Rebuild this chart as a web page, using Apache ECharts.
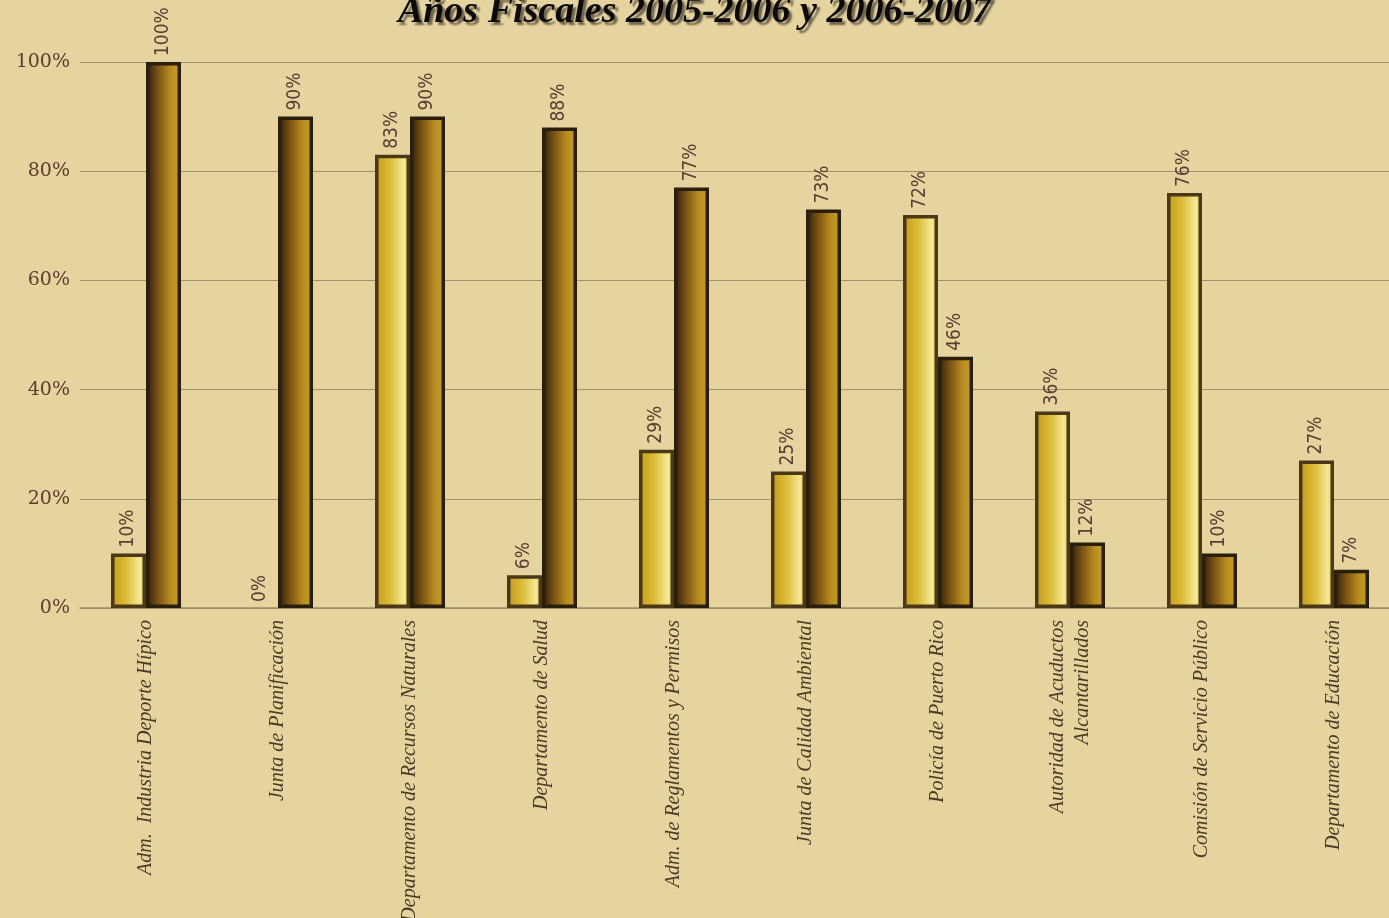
<!DOCTYPE html>
<html>
<head>
<meta charset="utf-8">
<script src="https://cdn.jsdelivr.net/npm/echarts@6/dist/echarts.min.js"></script>
<style>
html,body{margin:0;padding:0;background:#e6d49e;overflow:hidden;width:100%;height:100%;}
#c{width:100vw;height:100vh;}
</style>
</head>
<body>
<div id="c"></div>
<script>
const categories = [
  'Adm.  Industria Deporte Hípico',
  'Junta de Planificación',
  'Departamento de Recursos Naturales',
  'Departamento de Salud',
  'Adm. de Reglamentos y Permisos',
  'Junta de Calidad Ambiental',
  'Policía de Puerto Rico',
  'Autoridad de Acuductos\nAlcantarillados',
  'Comisión de Servicio Público',
  'Departamento de Educación'
];
const fy2005_2006 = [10, 0, 83, 6, 29, 25, 72, 36, 76, 27];
const fy2006_2007 = [100, 90, 90, 88, 77, 73, 46, 12, 10, 7];
const yTicks = [0, 20, 40, 60, 80, 100];
const titleText = 'Años Fiscales 2005-2006 y 2006-2007';

const chart = echarts.init(document.getElementById('c'), null, {renderer: 'canvas'});

const valueLabel = {
  show: true,
  position: 'top',
  rotate: 90,
  align: 'left',
  verticalAlign: 'middle',
  distance: 6,
  formatter: p => p.value + '%',
  fontFamily: '"Liberation Sans Narrow", "DejaVu Sans Condensed", "Liberation Sans", sans-serif',
  fontSize: 19,
  color: '#5a3e36'
};

// zero-height bars show only their label (no outline)
const toData = arr => arr.map(v => v === 0 ? {value: v, itemStyle: {borderWidth: 0}} : v);

chart.setOption({
  backgroundColor: '#e6d49e',
  animation: false,
  title: {
    text: titleText,
    left: 'center',
    top: -12,
    textStyle: {
      fontFamily: '"Liberation Serif", "DejaVu Serif", serif',
      fontStyle: 'italic',
      fontWeight: 'bold',
      fontSize: 38,
      color: '#0a0a0a',
      textShadowColor: 'rgba(80,70,50,0.8)',
      textShadowOffsetX: 3,
      textShadowOffsetY: 3,
      textShadowBlur: 2
    }
  },
  grid: {left: 80, top: 62, width: 1320, height: 546, containLabel: false, outerBoundsMode: 'none'},
  xAxis: {
    type: 'category',
    data: categories,
    axisLine: {show: true, lineStyle: {color: '#9c8c6a', width: 1.5}},
    axisTick: {show: false},
    axisLabel: {
      rotate: 90,
      interval: 0,
      margin: 12,
      padding: [0, 0, 10, 0],
      fontFamily: '"Liberation Serif", "DejaVu Serif", serif',
      fontStyle: 'italic',
      fontSize: 20,
      lineHeight: 25,
      color: '#4a3a28'
    }
  },
  yAxis: {
    type: 'value',
    min: yTicks[0],
    max: yTicks[yTicks.length - 1],
    interval: 20,
    axisLine: {show: false},
    axisTick: {show: false},
    splitLine: {show: true, lineStyle: {color: '#a0906e', width: 1.2}},
    axisLabel: {
      formatter: v => v + '%',
      margin: 10,
      fontFamily: '"DejaVu Serif", "Liberation Serif", serif',
      fontSize: 19,
      color: '#5e3a30'
    }
  },
  series: [
    {
      name: '2005-2006',
      type: 'bar',
      data: toData(fy2005_2006),
      barWidth: 35,
      barGap: '0%',
      itemStyle: {
        color: new echarts.graphic.LinearGradient(0, 0, 1, 0, [
          {offset: 0, color: '#c49a14'},
          {offset: 0.45, color: '#dcbe3c'},
          {offset: 0.82, color: '#f3e894'},
          {offset: 1, color: '#dcc660'}
        ]),
        borderColor: '#4a3818',
        borderWidth: 3.5
      },
      label: valueLabel
    },
    {
      name: '2006-2007',
      type: 'bar',
      data: toData(fy2006_2007),
      barWidth: 35,
      barGap: '0%',
      itemStyle: {
        color: new echarts.graphic.LinearGradient(0, 0, 1, 0, [
          {offset: 0, color: '#2e1c0a'},
          {offset: 0.35, color: '#7a5414'},
          {offset: 0.7, color: '#b88c1e'},
          {offset: 1, color: '#c8a02a'}
        ]),
        borderColor: '#2a1e0c',
        borderWidth: 3.5
      },
      label: valueLabel
    }
  ]
});
</script>
</body>
</html>
